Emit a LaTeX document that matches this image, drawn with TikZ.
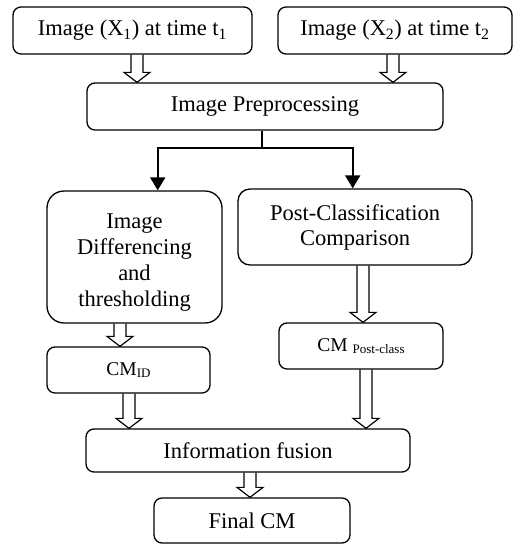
\documentclass[tikz,border=0pt]{standalone}
\usepackage{fontspec}
\setmainfont{Liberation Serif}
\usetikzlibrary{arrows.meta,calc}

\tikzset{
  box/.style={draw, line width=1.3pt, rounded corners=8pt, inner sep=0pt,
    align=center, font=\fontsize{22.5}{26}\selectfont},
  flow/.style={line width=1.8pt},
  flowarrow/.style={flow, -{Triangle[width=15pt,length=13pt]}},
  hollow/.style={draw, line width=1.2pt, line join=miter, to path={
    let \p1=(\tikztostart), \p2=(\tikztotarget) in
    (\x1-6pt,\y1) -- (\x1-6pt,\y2+10pt) -- (\x1-13pt,\y2+10pt) -- (\x1,\y2)
    -- (\x1+13pt,\y2+10pt) -- (\x1+6pt,\y2+10pt) -- (\x1+6pt,\y1)}}
}
\newcommand{\smallsub}[1]{\raisebox{-0.3ex}{\fontsize{13}{13}\selectfont #1}}

\begin{document}
\begin{tikzpicture}[x=1pt,y=-1pt]
\useasboundingbox (0,0) rectangle (514,544);

% inputs
\node[box, minimum width=239pt, minimum height=47pt] (b1) at (132.5,30.5)
  {Image (X\textsubscript{1}) at time t\textsubscript{1}};
\node[box, minimum width=234pt, minimum height=47pt] (b2) at (395,30.5)
  {Image (X\textsubscript{2}) at time t\textsubscript{2}};

% preprocessing
\node[box, minimum width=356pt, minimum height=47pt] (pre) at (265,106.5)
  {Image Preprocessing};

% two change detection branches
\node[box, rounded corners=17pt, minimum width=175pt, minimum height=132pt] (idb) at (134.5,257)
  {\raisebox{-5pt}[\height][\depth]{\begin{tabular}{@{}c@{}}Image\\Differencing\\and\\thresholding\end{tabular}}};
\node[box, rounded corners=12pt, minimum width=234pt, minimum height=76pt,
  font=\fontsize{22.5}{25}\selectfont] (pcc) at (355,227)
  {Post-Classification\\Comparison};

% change maps
\node[box, minimum width=163pt, minimum height=46pt,
  font=\fontsize{19.5}{22}\selectfont] (cmid) at (128.5,370)
  {CM\smallsub{ID}};
\node[box, minimum width=164pt, minimum height=46pt,
  font=\fontsize{19.5}{22}\selectfont] (cmpc) at (361,346)
  {CM \smallsub{Post-class}};

% fusion and result
\node[box, minimum width=324pt, minimum height=43pt] (fus) at (248,450.5)
  {Information fusion};
\node[box, minimum width=196pt, minimum height=45pt] (fin) at (252,520.5)
  {Final CM};

% hollow block arrows
\draw[hollow] ([xshift=4.5pt]b1.south) to (pre.north);
\draw[hollow] ([xshift=-2pt]b2.south) to (pre.north);
\draw[hollow] ([xshift=-14.5pt]idb.south) to (cmid.north);
\draw[hollow] ([xshift=8pt]pcc.south) to (cmpc.north);
\draw[hollow] ([xshift=0.5pt]cmid.south) to (fus.north);
\draw[hollow] ([xshift=5pt]cmpc.south) to (fus.north);
\draw[hollow] ([xshift=2pt]fus.south) to (fin.north);

% split from preprocessing into the two branches
\coordinate (split) at (261.7,147.7);
\coordinate (jl) at (157.7,147.7);
\coordinate (jr) at (352.7,147.7);
\draw[flow] (pre.south -| split) -- (split);
\draw[flow, line cap=rect] (jl) -- (jr);
\draw[flowarrow] (jl) -- (jl |- idb.north);
\draw[flowarrow] (jr) -- (jr |- pcc.north);
\end{tikzpicture}
\end{document}
